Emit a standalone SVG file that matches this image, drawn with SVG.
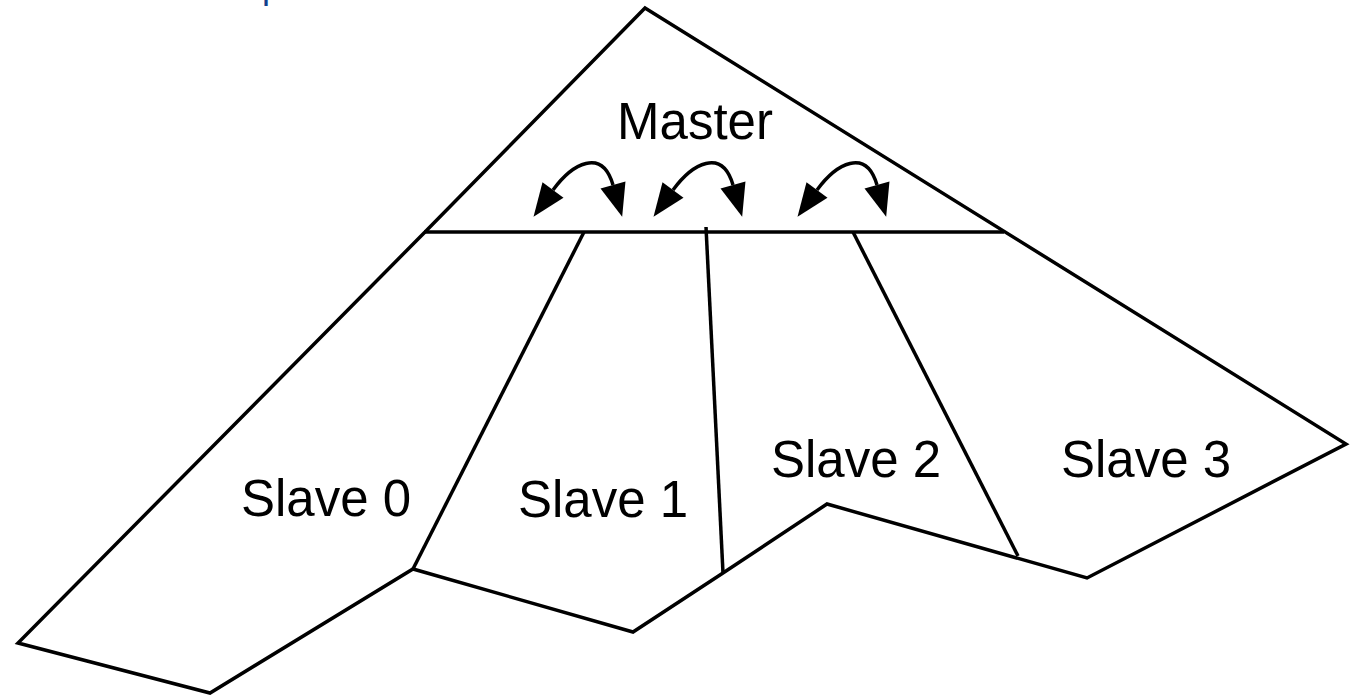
<svg xmlns="http://www.w3.org/2000/svg" width="1353" height="695" viewBox="0 0 1353 695">
<style>
.ln{fill:none;stroke:#000;stroke-width:3.5;stroke-linejoin:miter}
.lbl{font-family:"Liberation Sans",Arial,sans-serif;font-size:51px;fill:#000;text-anchor:middle}
.arc{fill:none;stroke:#000;stroke-width:3.5;marker-start:url(#head);marker-end:url(#head)}
</style>
<defs>
<marker id="head" markerUnits="userSpaceOnUse" markerWidth="36" markerHeight="28" refX="0" refY="13" orient="auto-start-reverse" overflow="visible">
<path d="M0,0 L33,13 L0,26 Z" fill="#000"/>
</marker>
</defs>
<rect width="1353" height="695" fill="#fff"/>
<text x="262" y="-2" style="font-family:'Liberation Sans',Arial,sans-serif;font-size:36px;fill:#133f8c">p</text>
<g id="connectors">
<polyline class="ln" points="425,232 645,8 1346,444 1087,578 827,504 723,573 633,632 413,569 210,693 18,643 425,232"/>
<line class="ln" x1="424" y1="232" x2="1004" y2="232"/>
<line class="ln" x1="584" y1="232" x2="413" y2="569"/>
<line class="ln" x1="706" y1="227" x2="723" y2="573"/>
<line class="ln" x1="853" y1="232" x2="1018" y2="556"/>
</g>
<g id="master"><text class="lbl" x="695" y="139">Master</text></g>
<g id="slave0"><text class="lbl" x="326" y="516">Slave 0</text></g>
<g id="slave1"><text class="lbl" x="603" y="517">Slave 1</text></g>
<g id="slave2"><text class="lbl" x="856" y="477">Slave 2</text></g>
<g id="slave3"><text class="lbl" x="1146" y="477">Slave 3</text></g>
<g id="arrows">
<path class="arc" d="M553,190 C572,164 602,147 613,185"/>
<path class="arc" d="M673,190 C692,164 722,147 733,185"/>
<path class="arc" d="M817,190 C836,164 866,147 877,185"/>
</g>
</svg>
